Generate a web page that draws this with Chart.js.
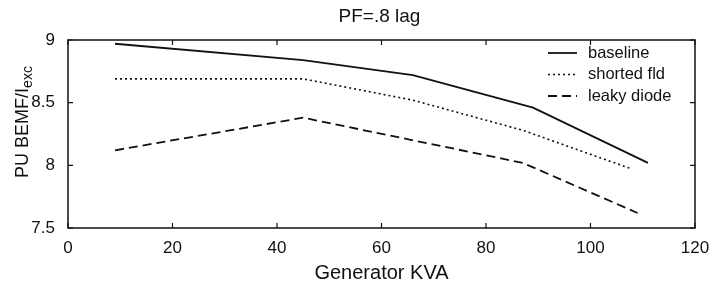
<!DOCTYPE html>
<html>
<head>
<meta charset="utf-8">
<script src="https://cdn.jsdelivr.net/npm/chart.js@4.4.0/dist/chart.umd.min.js"></script>
<style>
  html, body { margin: 0; padding: 0; background: #fff; }
  #wrap { width: 712px; height: 289px; }
</style>
</head>
<body>
<div id="wrap"><canvas id="myChart" width="712" height="289"></canvas></div>
<script>
// PF=.8 lag : back EMF per unit excitation vs generator load

const titleText = 'PF=.8 lag';
const xLabel = 'Generator KVA';

const baselineKVA = [9, 45, 66, 89, 111];
const baselineVal = [8.97, 8.84, 8.72, 8.46, 8.02];

const shortedKVA = [9, 45, 66, 87, 108];
const shortedVal = [8.69, 8.69, 8.52, 8.28, 7.97];

const leakyKVA = [9, 45, 66, 87, 109];
const leakyVal = [8.12, 8.38, 8.2, 8.02, 7.62];

const seriesNames = ['baseline', 'shorted fld', 'leaky diode'];

const xTicks = [0, 20, 40, 60, 80, 100, 120];
const yTicks = [7.5, 8, 8.5, 9];

const ink = '#111';
const font = '"Liberation Sans", Arial, sans-serif';

function toPoints(xs, ys) {
  return xs.map((x, i) => ({ x: x, y: ys[i] }));
}

// frame, inward ticks, title, y label with subscript, legend
const matlabLook = {
  id: 'matlabLook',
  afterDraw(chart) {
    const ctx = chart.ctx;
    const a = chart.chartArea;
    const xs = chart.scales.x;
    const ys = chart.scales.y;
    ctx.save();
    ctx.strokeStyle = ink;
    ctx.lineWidth = 1.5;
    ctx.strokeRect(a.left, a.top, a.right - a.left, a.bottom - a.top);

    // ticks point inward on all four sides
    ctx.lineWidth = 1.2;
    const tl = 5;
    xTicks.forEach(v => {
      const px = xs.getPixelForValue(v);
      ctx.beginPath();
      ctx.moveTo(px, a.bottom); ctx.lineTo(px, a.bottom - tl);
      ctx.moveTo(px, a.top); ctx.lineTo(px, a.top + tl);
      ctx.stroke();
    });
    yTicks.forEach(v => {
      const py = ys.getPixelForValue(v);
      ctx.beginPath();
      ctx.moveTo(a.left, py); ctx.lineTo(a.left + tl, py);
      ctx.moveTo(a.right, py); ctx.lineTo(a.right - tl, py);
      ctx.stroke();
    });

    // title
    ctx.fillStyle = ink;
    ctx.font = '19px ' + font;
    ctx.textAlign = 'center';
    ctx.textBaseline = 'middle';
    ctx.fillText(titleText, (a.left + a.right) / 2 - 2, 17);

    // y axis label: PU BEMF/I with "exc" subscript
    ctx.save();
    ctx.translate(22, 122);
    ctx.rotate(-Math.PI / 2);
    const main = 'PU BEMF/I';
    ctx.font = '18px ' + font;
    const w1 = ctx.measureText(main).width;
    ctx.font = '14px ' + font;
    const w2 = ctx.measureText('exc').width;
    const start = -(w1 + w2) / 2;
    ctx.textAlign = 'left';
    ctx.textBaseline = 'alphabetic';
    ctx.font = '18px ' + font;
    ctx.fillText(main, start, 6);
    ctx.font = '14px ' + font;
    ctx.fillText('exc', start + w1, 10);
    ctx.restore();

    // legend in the upper right of the plot box
    const lx = a.right - 147;
    let ly = a.top + 13;
    ctx.font = '16.5px ' + font;
    ctx.textAlign = 'left';
    ctx.textBaseline = 'middle';
    chart.data.datasets.forEach(ds => {
      ctx.save();
      ctx.strokeStyle = ds.borderColor;
      ctx.lineWidth = ds.borderWidth;
      ctx.setLineDash(ds.borderDash || []);
      ctx.beginPath();
      ctx.moveTo(lx, ly);
      ctx.lineTo(lx + 29, ly);
      ctx.stroke();
      ctx.restore();
      ctx.fillText(ds.label, lx + 40, ly);
      ly += 21.5;
    });
    ctx.restore();
  }
};

const chart = new Chart(document.getElementById('myChart'), {
  type: 'line',
  data: {
    datasets: [
      {
        label: seriesNames[0],
        data: toPoints(baselineKVA, baselineVal),
        borderColor: ink,
        borderWidth: 1.8,
        pointRadius: 0,
        tension: 0
      },
      {
        label: seriesNames[1],
        data: toPoints(shortedKVA, shortedVal),
        borderColor: ink,
        borderWidth: 1.6,
        borderDash: [2, 3],
        pointRadius: 0,
        tension: 0
      },
      {
        label: seriesNames[2],
        data: toPoints(leakyKVA, leakyVal),
        borderColor: ink,
        borderWidth: 1.8,
        borderDash: [9, 5],
        pointRadius: 0,
        tension: 0
      }
    ]
  },
  options: {
    responsive: false,
    animation: false,
    layout: { padding: { top: 40, right: 17, left: 0, bottom: 0 } },
    plugins: {
      legend: { display: false },
      title: { display: false },
      tooltip: { enabled: false }
    },
    scales: {
      x: {
        type: 'linear',
        min: 0,
        max: 120,
        afterBuildTicks: s => { s.ticks = xTicks.map(v => ({ value: v })); },
        afterFit: s => { s.height = 61; },
        grid: { display: false },
        border: { display: false },
        ticks: {
          color: ink,
          padding: 2,
          maxRotation: 0,
          font: { family: font, size: 17 }
        },
        title: {
          display: true,
          text: xLabel,
          color: ink,
          padding: { top: 2 },
          font: { family: font, size: 20 }
        }
      },
      y: {
        type: 'linear',
        min: 7.5,
        max: 9,
        afterBuildTicks: s => { s.ticks = yTicks.map(v => ({ value: v })); },
        afterFit: s => { s.width = 68; },
        grid: { display: false },
        border: { display: false },
        ticks: {
          color: ink,
          padding: 5,
          font: { family: font, size: 17 },
          callback: v => String(v)
        }
      }
    }
  },
  plugins: [matlabLook]
});
</script>
</body>
</html>
